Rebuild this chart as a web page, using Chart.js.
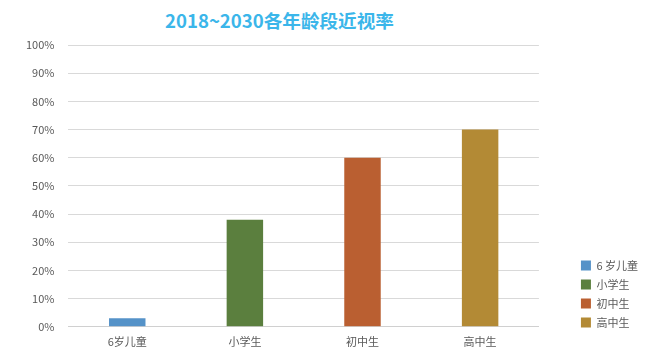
<!DOCTYPE html>
<html><head><meta charset="utf-8">
<script src="https://cdn.jsdelivr.net/npm/chart.js@4/dist/chart.umd.min.js"></script>
<style>
html,body{margin:0;padding:0;background:#fff;}
#wrap{position:relative;width:665px;height:356px;}
#title{position:absolute;left:165px;top:6px;font:bold 18.6px "Noto Sans CJK SC","Noto Sans",sans-serif;color:#3BB6EA;white-space:nowrap;}
canvas{position:absolute;left:0;top:0;}
</style></head><body>
<div id="wrap"><div id="title">2018~2030各年龄段近视率</div><canvas id="c" width="665" height="356"></canvas></div>
<script>
const categories = ['6岁儿童','小学生','初中生','高中生'];
const legendLabels = ['6 岁儿童','小学生','初中生','高中生'];
const values = [3, 38, 60, 70];
const colors = ['#5592C8','#5B7F3E','#BA5F31','#B38A35'];
const yTicks = [0,10,20,30,40,50,60,70,80,90,100];

const datasets = legendLabels.map((lab,i)=>({
  label: lab,
  data: categories.map((c,j)=> j===i ? values[i] : null),
  backgroundColor: colors[i],
  borderWidth: 0,
  grouped: false,
  categoryPercentage: 1,
  barPercentage: 0.31
}));
const font = {family:'"Noto Sans CJK SC","Noto Sans",sans-serif', size:11};
const legendShift = {id:'legendShift', afterLayout(chart){
  const l = chart.legend; const dx = 34, dy = -12;
  l.left += dx; l.right += dx; l.top += dy; l.bottom += dy;
}};
new Chart(document.getElementById('c'), {
  type:'bar',
  data:{labels:categories, datasets},
  options:{
    responsive:false, animation:false,
    layout:{padding:{top:45,left:12,right:51,bottom:8}},
    plugins:{
      title:{display:false},
      tooltip:{enabled:false},
      legend:{position:'right', align:'end',
        labels:{boxWidth:10, boxHeight:10, padding:8, color:'#595959', font}}
    },
    scales:{
      x:{grid:{display:false}, border:{color:'#d0d0d0'},
         ticks:{color:'#595959', font, padding:0}},
      y:{min:0,max:100,
         afterBuildTicks:(s)=>{s.ticks = yTicks.map(v=>({value:v}));},
         grid:{color:'#d9d9d9', drawTicks:false}, border:{display:false},
         ticks:{color:'#595959', font, padding:14, callback:v=>v+'%'}}
    }
  },
  plugins:[legendShift]
});
</script></body></html>
